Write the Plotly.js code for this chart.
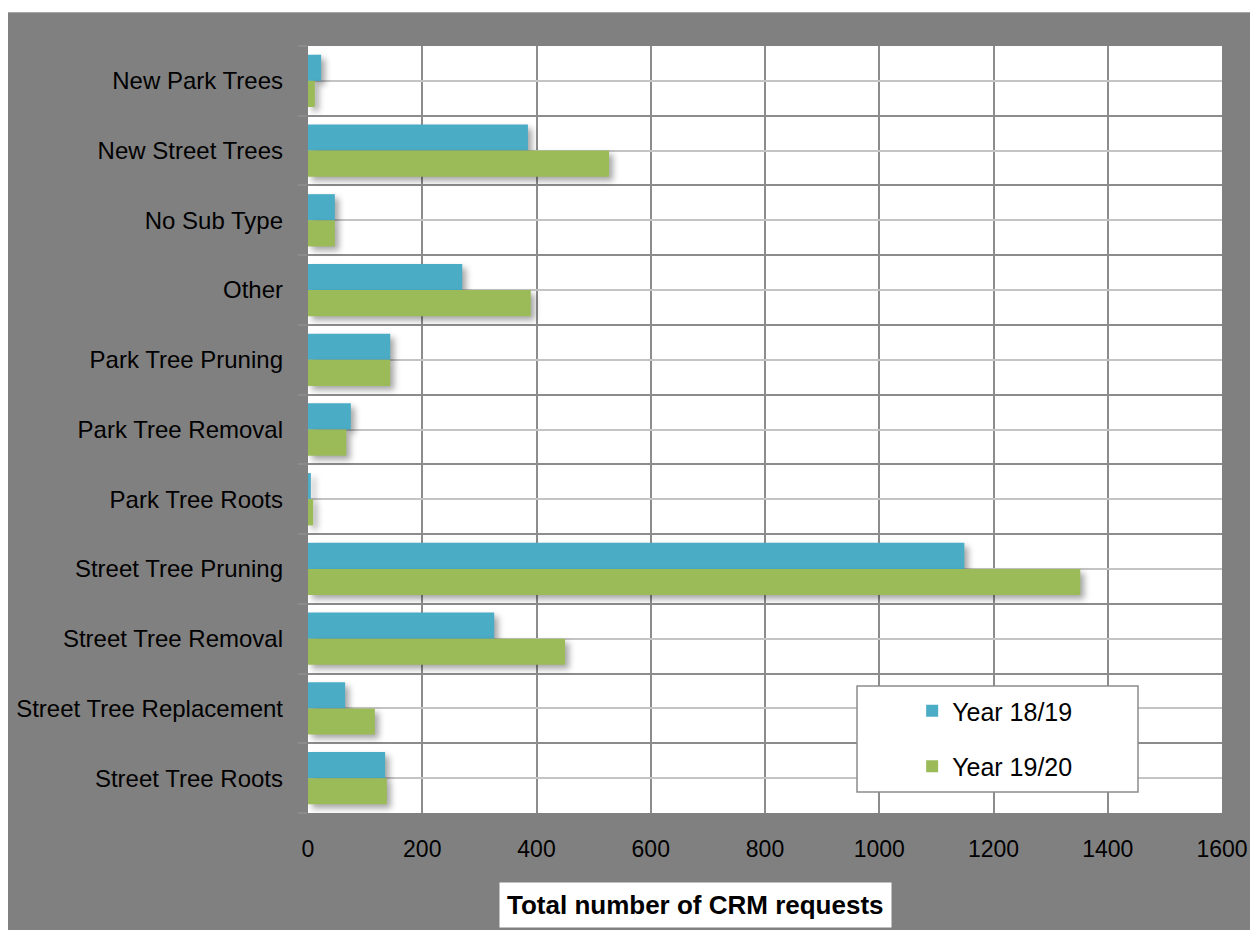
<!DOCTYPE html>
<html><head><meta charset="utf-8">
<script src="https://cdn.plot.ly/plotly-3.0.1.min.js"></script>
<style>
html,body{margin:0;padding:0;background:#fff;width:1250px;height:930px;overflow:hidden}
#chart{position:absolute;left:8px;top:13px;width:1242px;height:917px;box-shadow:0 -1px 0 #a6a6a6}
.bars .point path{filter:drop-shadow(4px 4px 3px rgba(0,0,0,0.35))}
</style></head>
<body><div id="chart"></div>
<script>
const categories = ["New Park Trees","New Street Trees","No Sub Type","Other","Park Tree Pruning","Park Tree Removal","Park Tree Roots","Street Tree Pruning","Street Tree Removal","Street Tree Replacement","Street Tree Roots"];
const seriesNames = ["Year 18/19","Year 19/20"];
const year1819 = [23, 385, 47, 270, 144, 75, 5, 1149, 326, 65, 135];
const year1920 = [12, 527, 47, 390, 144, 67, 9, 1352, 450, 117, 138];
const xTicks = [0,200,400,600,800,1000,1200,1400,1600];
const axisTitle = "Total number of CRM requests";

const FONT = '"Liberation Sans",Arial,sans-serif';
const pos = categories.map((c,i)=>i);

const traces = [
  {type:'bar', orientation:'h', name:seriesNames[0], legendgroup:'a', x:year1819, y:pos, marker:{color:'#4BACC6'}, hoverinfo:'x+name'},
  {type:'bar', orientation:'h', name:seriesNames[1], legendgroup:'b', x:year1920, y:pos, marker:{color:'#9BBB59'}, hoverinfo:'x+name'}
];

const layout = {
  width:1242, height:917,
  paper_bgcolor:'#808080', plot_bgcolor:'#ffffff',
  margin:{l:300, r:28, t:33, b:117},
  barmode:'group', bargap:0.25, bargroupgap:0,
  font:{family:FONT, size:24, color:'#000'},
  showlegend:true,
  legend:{x:0.661, y:0.097, xanchor:'left', yanchor:'middle', bgcolor:'rgba(0,0,0,0)', borderwidth:0,
          traceorder:'grouped', tracegroupgap:20,
          font:{family:FONT, size:25, color:'#000'}, itemwidth:30},
  xaxis:{range:[0,1600.01], tickvals:xTicks, ticktext:xTicks.map(String), showgrid:true, gridcolor:'#8c8c8c', gridwidth:2,
         zeroline:false, showline:false, ticks:'', ticklabelstandoff:20, tickfont:{family:FONT, size:23}},
  yaxis:{range:[categories.length-0.5,-0.5], tickvals:pos, ticktext:categories, showgrid:true, gridcolor:'#c4c4c4', gridwidth:2,
         zeroline:false, showline:false, ticks:'', ticklabelstandoff:24, tickfont:{family:FONT, size:24},
         minor:{tick0:0.5, dtick:1, showgrid:true, gridcolor:'#8c8c8c', gridwidth:2, ticks:'outside', ticklen:9, tickcolor:'#8c8c8c', tickwidth:2}},
  shapes:[{type:'rect', xref:'paper', yref:'paper', x0:(857-308)/914, x1:(1138-308)/914, y0:(813-792)/767, y1:(813-686)/767,
           fillcolor:'#ffffff', line:{color:'#8c8c8c', width:1.5}, layer:'above'}],
  annotations:[{text:'<b>'+axisTitle+'</b>', xref:'paper', yref:'paper', x:(695-308)/914, y:(813-905)/767,
                xanchor:'center', yanchor:'middle', showarrow:false, bgcolor:'#ffffff', borderpad:7,
                font:{family:FONT, size:26, color:'#000'}}]
};

Plotly.newPlot('chart', traces, layout, {displayModeBar:false, staticPlot:true});
</script></body></html>
